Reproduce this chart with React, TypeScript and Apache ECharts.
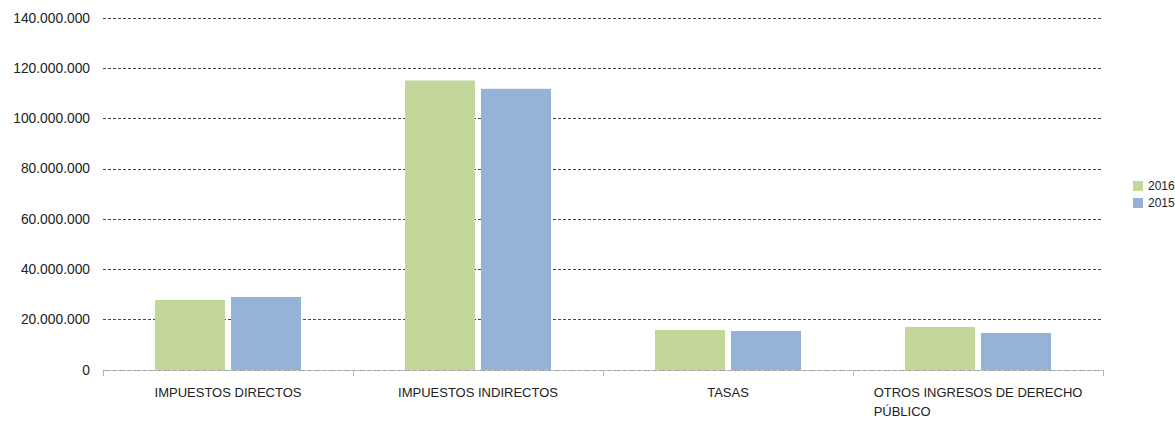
import React, { useEffect, useRef } from "react";
import * as echarts from "echarts";

const categories = [
  "IMPUESTOS DIRECTOS",
  "IMPUESTOS INDIRECTOS",
  "TASAS",
  "OTROS INGRESOS DE DERECHO PÚBLICO",
];
const values2016 = [27800000, 115100000, 15900000, 17100000];
const values2015 = [29000000, 111900000, 15500000, 14700000];
const seriesNames = ["2016", "2015"];

const fmt = (v: number) =>
  String(Math.round(v)).replace(/\B(?=(\d{3})+(?!\d))/g, ".");

const FONT = "'Liberation Sans', Arial, sans-serif";

export default function App() {
  const ref = useRef<HTMLDivElement>(null);
  useEffect(() => {
    document.body.style.margin = "0";
    if (!ref.current) return;
    const chart = echarts.init(ref.current, null, { renderer: "svg" });
    chart.setOption({
      animation: false,
      textStyle: { fontFamily: FONT },
      grid: { left: 103, right: 72, top: 18, bottom: 50 },
      legend: {
        orient: "vertical",
        left: 1128,
        top: 175,
        itemWidth: 10,
        itemHeight: 10,
        itemGap: 5,
        itemTextGap: 4,
        icon: "rect",
        data: seriesNames,
        textStyle: { fontFamily: FONT, fontSize: 12, color: "#222" },
      },
      xAxis: {
        type: "category",
        data: categories,
        axisLine: { show: true, lineStyle: { color: "#b8b8b8", width: 1, type: [2, 1] } },
        axisTick: { show: true, alignWithLabel: false, length: 6, lineStyle: { color: "#b8b8b8" } },
        axisLabel: {
          interval: 0,
          margin: 13,
          fontFamily: FONT,
          fontSize: 13,
          color: "#222",
          lineHeight: 19,
          formatter: (v: string) =>
            v === "OTROS INGRESOS DE DERECHO PÚBLICO"
              ? "{l|OTROS INGRESOS DE DERECHO}\n{l|PÚBLICO}"
              : v,
          rich: {
            l: { align: "left", fontFamily: FONT, fontSize: 13, color: "#222", lineHeight: 19 },
          },
        },
      },
      yAxis: {
        type: "value",
        min: 0,
        max: 140000000,
        interval: 20000000,
        axisLine: { show: false },
        axisTick: { show: false },
        axisLabel: {
          margin: 13,
          fontFamily: FONT,
          fontSize: 13.8,
          color: "#222",
          formatter: (v: number) => fmt(v),
        },
        splitLine: { lineStyle: { color: "#444", type: [3, 2], width: 1 } },
      },
      series: [
        {
          name: seriesNames[0],
          type: "bar",
          data: values2016,
          barWidth: 70,
          barGap: "8.6%",
          itemStyle: { color: "#C4D79B" },
        },
        {
          name: seriesNames[1],
          type: "bar",
          data: values2015,
          barWidth: 70,
          itemStyle: { color: "#95B3D7" },
        },
      ],
    });
    return () => chart.dispose();
  }, []);
  return <div ref={ref} style={{ width: 1175, height: 421 }} />;
}
